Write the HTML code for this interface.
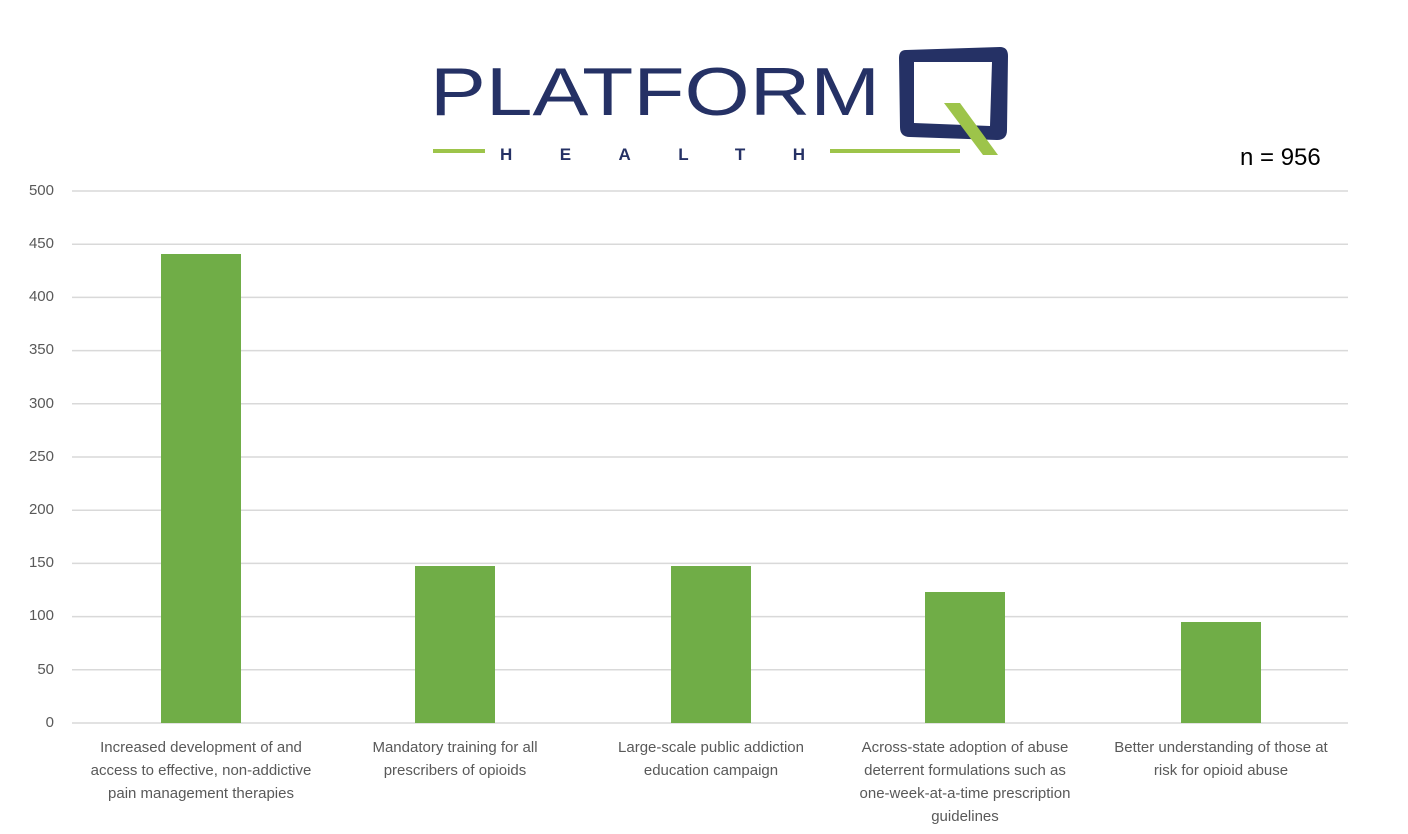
<!DOCTYPE html>
<html><head><style>
body{margin:0;background:#fff;width:1408px;height:834px;overflow:hidden;position:relative;font-family:"Liberation Sans",sans-serif}
.t{position:absolute;font-size:15px;color:#595959;text-align:center;line-height:23px;white-space:nowrap}
.y{position:absolute;left:0;width:54px;text-align:right;font-size:15px;color:#595959}
</style></head><body>
<svg width="1408" height="834" style="position:absolute;left:0;top:0">
<g stroke="#d9d9d9" stroke-width="1.5">
<line x1="72" x2="1348" y1="191" y2="191"/><line x1="72" x2="1348" y1="244.2" y2="244.2"/>
<line x1="72" x2="1348" y1="297.4" y2="297.4"/><line x1="72" x2="1348" y1="350.6" y2="350.6"/>
<line x1="72" x2="1348" y1="403.8" y2="403.8"/><line x1="72" x2="1348" y1="457" y2="457"/>
<line x1="72" x2="1348" y1="510.2" y2="510.2"/><line x1="72" x2="1348" y1="563.4" y2="563.4"/>
<line x1="72" x2="1348" y1="616.6" y2="616.6"/><line x1="72" x2="1348" y1="669.8" y2="669.8"/>
<line x1="72" x2="1348" y1="723" y2="723"/></g>
<g fill="#70ad47">
<rect x="161" y="254" width="80" height="469"/>
<rect x="415" y="566" width="80" height="157"/>
<rect x="671" y="566" width="80" height="157"/>
<rect x="925" y="592" width="80" height="131"/>
<rect x="1181" y="622" width="80" height="101"/></g>
<text x="430" y="115" font-family="Liberation Sans" font-size="68" fill="#253165" textLength="450" lengthAdjust="spacingAndGlyphs">PLATFORM</text>
<path d="M906 50 L1000 47 Q1008 47 1008 56 L1007 130 Q1007 140 997 140 L910 137 Q900 137 900 127 L899 58 Q899 50 906 50 Z M914 62 L914 123 L990 126 L992 62 Z" fill="#253165" fill-rule="evenodd"/>
<path d="M944 103 L960 103 L998 155 L983 155 Z" fill="#9dc44a"/>
<rect x="433" y="149" width="52" height="4" fill="#9dc44a"/>
<rect x="830" y="149" width="130" height="4" fill="#9dc44a"/>
<text x="500" y="160" font-family="Liberation Sans" font-weight="bold" font-size="17" fill="#253165" textLength="305">HEALTH</text>
</svg>
<div style="position:absolute;left:1240px;top:144px;font-size:24px;color:#000">n = 956</div>
<div class="y" style="top:182px">500</div><div class="y" style="top:235px">450</div>
<div class="y" style="top:288px">400</div><div class="y" style="top:341px">350</div>
<div class="y" style="top:395px">300</div><div class="y" style="top:448px">250</div>
<div class="y" style="top:501px">200</div><div class="y" style="top:554px">150</div>
<div class="y" style="top:607px">100</div><div class="y" style="top:661px">50</div>
<div class="y" style="top:714px">0</div>
<div class="t" style="left:71px;width:260px;top:736px">Increased development of and<br>access to effective, non-addictive<br>pain management therapies</div>
<div class="t" style="left:345px;width:220px;top:736px">Mandatory training for all<br>prescribers of opioids</div>
<div class="t" style="left:596px;width:230px;top:736px">Large-scale public addiction<br>education campaign</div>
<div class="t" style="left:840px;width:250px;top:736px">Across-state adoption of abuse<br>deterrent formulations such as<br>one-week-at-a-time prescription<br>guidelines</div>
<div class="t" style="left:1091px;width:260px;top:736px">Better understanding of those at<br>risk for opioid abuse</div>
</body></html>
